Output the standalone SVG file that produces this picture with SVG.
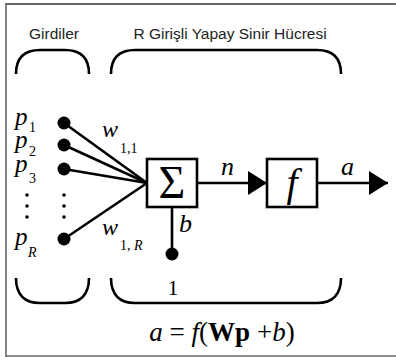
<svg xmlns="http://www.w3.org/2000/svg" width="396" height="357" viewBox="0 0 396 357">
  <style>
    .frame { stroke: #666; fill: none; }
    .brace { stroke: #000; stroke-width: 2.6; fill: none; stroke-linecap: butt; }
    .wire { stroke: #000; stroke-width: 2.6; fill: none; }
    .box { stroke: #000; stroke-width: 2.6; fill: #fff; }
    .head { font-family: "Liberation Sans", Arial, sans-serif; font-size: 15.5px; fill: #222; text-anchor: middle; }
    .math { font-family: "Liberation Serif", "Times New Roman", serif; fill: #000; }
    .it { font-style: italic; }
    .sub { font-size: 14px; }
  </style>
  <defs>
    <marker id="arrow" markerWidth="20" markerHeight="24" refX="19" refY="12" markerUnits="userSpaceOnUse" orient="auto">
      <path d="M0,0 L19,12 L0,24 Z" fill="#000"/>
    </marker>
  </defs>

  <rect width="396" height="357" fill="#fff"/>
  <!-- outer frame -->
  <line class="frame" x1="6" y1="4" x2="396" y2="4" stroke-width="2" stroke="#777"/>
  <line class="frame" x1="6" y1="3" x2="6" y2="357" stroke-width="1.6" stroke="#333"/>
  <line class="frame" x1="6" y1="356" x2="396" y2="356" stroke-width="1.6" stroke="#555"/>

  <!-- headings and braces -->
  <g id="inputs-heading">
    <text class="head" x="54" y="39">Girdiler</text>
    <path class="brace" d="M16,74 C16,58 24,50 40,50 L65,50 C81,50 89,58 89,74"/>
    <path class="brace" d="M16,278 C16,294 24,303 40,303 L65,303 C81,303 89,294 89,278"/>
  </g>
  <g id="neuron-heading">
    <text class="head" x="230" y="39">R Girişli Yapay Sinir Hücresi</text>
    <path class="brace" d="M111,74 C111,58 119,50 135,50 L317,50 C333,50 341,58 341,74"/>
    <path class="brace" d="M111,278 C111,294 119,303 135,303 L317,303 C333,303 341,294 341,278"/>
  </g>

  <!-- connectors -->
  <g id="connectors">
    <line class="wire" x1="64" y1="123" x2="147" y2="183"/>
    <line class="wire" x1="64" y1="145" x2="147" y2="183"/>
    <line class="wire" x1="64" y1="169" x2="147" y2="183"/>
    <line class="wire" x1="64" y1="239" x2="147" y2="183"/>
    <line class="wire" x1="172" y1="207" x2="172" y2="254"/>
    <line class="wire" x1="197" y1="183" x2="267" y2="183" marker-end="url(#arrow)"/>
    <line class="wire" x1="317" y1="183" x2="388" y2="183" marker-end="url(#arrow)"/>
  </g>

  <!-- input nodes -->
  <g id="input-p1">
    <circle cx="64" cy="123" r="6.5"/>
    <text class="math it" x="15" y="125" font-size="25">p</text>
    <text class="math sub" x="29" y="132">1</text>
  </g>
  <g id="input-p2">
    <circle cx="64" cy="145" r="6.5"/>
    <text class="math it" x="15" y="148" font-size="25">p</text>
    <text class="math sub" x="29" y="156">2</text>
  </g>
  <g id="input-p3">
    <circle cx="64" cy="169" r="6.5"/>
    <text class="math it" x="15" y="172" font-size="25">p</text>
    <text class="math sub" x="29" y="183">3</text>
  </g>
  <g id="input-ellipsis">
    <circle cx="27" cy="195" r="1.8"/>
    <circle cx="27" cy="206" r="1.8"/>
    <circle cx="27" cy="217" r="1.8"/>
    <circle cx="64" cy="195" r="1.8"/>
    <circle cx="64" cy="206" r="1.8"/>
    <circle cx="64" cy="217" r="1.8"/>
  </g>
  <g id="input-pR">
    <circle cx="64" cy="239" r="6.5"/>
    <text class="math it" x="15" y="245" font-size="25">p</text>
    <text class="math sub it" x="28" y="257">R</text>
  </g>

  <!-- weight labels -->
  <g id="weight-11">
    <text class="math it" x="102" y="137" font-size="24">w</text>
    <text class="math sub" x="120" y="153">1,1</text>
  </g>
  <g id="weight-1R">
    <text class="math it" x="102" y="235" font-size="24">w</text>
    <text class="math sub" x="120" y="250">1, <tspan class="it">R</tspan></text>
  </g>

  <!-- summing junction -->
  <g id="sum">
    <rect class="box" x="147" y="159" width="50" height="48"/>
    <text class="math" x="172" y="198" font-size="46" text-anchor="middle">Σ</text>
  </g>

  <!-- bias -->
  <g id="bias">
    <circle cx="172" cy="254" r="6.5"/>
    <text class="math it" x="179" y="232" font-size="26">b</text>
    <text class="math" x="173" y="295" font-size="22" text-anchor="middle">1</text>
  </g>

  <!-- net input label -->
  <g id="net-label">
    <text class="math it" x="221" y="175" font-size="26">n</text>
  </g>

  <!-- transfer function -->
  <g id="transfer">
    <rect class="box" x="267" y="159" width="50" height="48"/>
    <text class="math it" x="292" y="196" font-size="40" text-anchor="middle">f</text>
  </g>

  <!-- output label -->
  <g id="output-label">
    <text class="math it" x="341" y="175" font-size="26">a</text>
  </g>

  <!-- neuron equation -->
  <g id="equation">
    <text class="math" x="222" y="341" font-size="27" text-anchor="middle"><tspan class="it">a</tspan> = <tspan class="it">f</tspan>(<tspan font-weight="bold">Wp</tspan> +<tspan class="it">b</tspan>)</text>
  </g>
</svg>
